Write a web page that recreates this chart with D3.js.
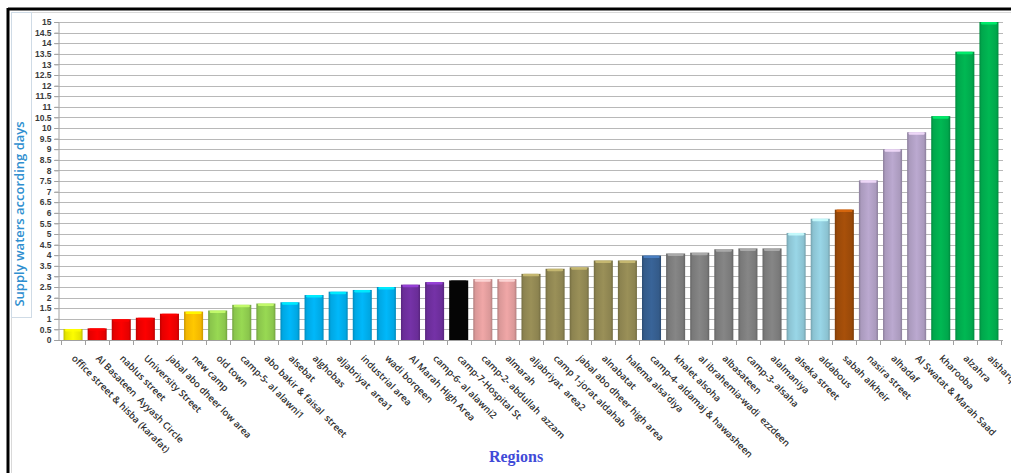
<!DOCTYPE html>
<html>
<head>
<meta charset="utf-8">
<script src="https://cdn.jsdelivr.net/npm/d3@7"></script>
<style>
  html, body { margin: 0; padding: 0; background: #ffffff; }
  svg { display: block; }
</style>
</head>
<body>
<svg id="chart" width="1011" height="473"></svg>
<script>
// Regions, in the order they are plotted
const regions = [
  "office street & hisba (karafat)",
  "Al Basateen  Ayyash Circle",
  "nablus street",
  "University Street",
  "jabal abo dheer low area",
  "new camp",
  "old town",
  "camp-5- al alawni1",
  "abo bakir & faisal  street",
  "alsebat",
  "alghobas",
  "aljabriyat  area1",
  "industrial area",
  "wadi borqeen",
  "Al Marah High Area",
  "camp-6- al alawni2",
  "camp-7-Hospital St",
  "camp-2- abdullah  azzam",
  "almarah",
  "aljabriyat  area2",
  "camp 1-jorat aldahab",
  "jabal abo dheer high area",
  "alnabatat",
  "halema alsa'diya",
  "camp-4- aldamaj & hawasheen",
  "khalet alsoha",
  "al ibrahemia-wadi  ezzdeen",
  "albasateen",
  "camp-3- alsaha",
  "alalmaniya",
  "alseka street",
  "aldabous",
  "sabah alkheir",
  "nasira street",
  "alhadaf",
  "Al Swatat & Marah Saad",
  "kharooba",
  "alzahra",
  "alsharqia"
];

// Water supply interval in days for each region
const supplyDays = [
  0.52, 0.55, 0.98, 1.05, 1.24, 1.34, 1.39, 1.66, 1.72, 1.78,
  2.12, 2.28, 2.36, 2.5, 2.61, 2.73, 2.81, 2.87, 2.87, 3.12,
  3.36, 3.43, 3.75, 3.75, 3.98, 4.08, 4.12, 4.28, 4.32, 4.32,
  5.05, 5.72, 6.15, 7.53, 9.0, 9.8, 10.56, 13.6, 15.0
];

// Y axis tick values (every half day)
const yTicks = d3.range(0, 15.01, 0.5);

// Fill colour of each bar
const barColors = [
  "#F2F200", "#F20000", "#F20000", "#F20000", "#F20000", "#FFC000",
  "#92D050", "#92D050", "#92D050",
  "#00B0F0", "#00B0F0", "#00B0F0", "#00B0F0", "#00B0F0",
  "#7030A0", "#7030A0", "#050505", "#E6A0A0", "#E6A0A0",
  "#948A54", "#948A54", "#948A54", "#948A54", "#948A54",
  "#376092",
  "#808080", "#808080", "#808080", "#808080", "#808080",
  "#93CDDD", "#93CDDD", "#A14D0A",
  "#B3A2C7", "#B3A2C7", "#B3A2C7",
  "#00B050", "#00B050", "#00B050"
];

const svg = d3.select("#chart");

// outer frame: heavy top and left edges
svg.append("line").attr("x1", 8).attr("x2", 1011).attr("y1", 9).attr("y2", 9)
  .attr("stroke", "#000").attr("stroke-width", 3);
svg.append("line").attr("x1", 8).attr("x2", 8).attr("y1", 8).attr("y2", 473)
  .attr("stroke", "#000").attr("stroke-width", 3);
// faint inner frame
svg.append("line").attr("x1", 11).attr("x2", 1011).attr("y1", 12.5).attr("y2", 12.5)
  .attr("stroke", "#d9d9d9").attr("stroke-width", 1);
svg.append("line").attr("x1", 11.5).attr("x2", 11.5).attr("y1", 12).attr("y2", 473)
  .attr("stroke", "#d9d9d9").attr("stroke-width", 1);

const x0 = 61, x1 = 1001, yTop = 22, yBase = 340;

const x = d3.scaleBand()
  .domain(d3.range(regions.length))
  .range([x0, x1])
  .paddingInner(0.21)
  .paddingOuter(0.105);

const y = d3.scaleLinear().domain([0, 15]).range([yBase, yTop]);

// gradients for the shaded bar look
const defs = svg.append("defs");
const uniqueColors = Array.from(new Set(barColors));
const gradId = c => "g" + c.replace("#", "");
uniqueColors.forEach(c => {
  const base = d3.color(c);
  const g = defs.append("linearGradient").attr("id", gradId(c))
    .attr("x1", "0").attr("x2", "1").attr("y1", "0").attr("y2", "0");
  g.append("stop").attr("offset", "0%").attr("stop-color", base.darker(0.7));
  g.append("stop").attr("offset", "12%").attr("stop-color", base.darker(0.15));
  g.append("stop").attr("offset", "50%").attr("stop-color", base.brighter(0.12));
  g.append("stop").attr("offset", "88%").attr("stop-color", base.darker(0.15));
  g.append("stop").attr("offset", "100%").attr("stop-color", base.darker(0.7));
});

// horizontal gridlines
svg.append("g").selectAll("line").data(yTicks).join("line")
  .attr("x1", 54).attr("x2", 1003)
  .attr("y1", d => Math.round(y(d)) + 0.5).attr("y2", d => Math.round(y(d)) + 0.5)
  .attr("stroke", "#b8b8b8").attr("stroke-width", 1);

// y axis
const yAxis = d3.axisLeft(y).tickValues(yTicks).tickSize(4).tickPadding(3)
  .tickFormat(d => String(d));
const gy = svg.append("g").attr("transform", "translate(58.5,0)").call(yAxis);
gy.select(".domain").attr("stroke", "#a0a0a0");
gy.selectAll(".tick line").attr("stroke", "#a0a0a0");
gy.selectAll(".tick text")
  .attr("font-family", "'Liberation Sans', Arial, sans-serif")
  .attr("font-size", "8.5px").attr("font-weight", 700)
  .attr("fill", "#3a3a3a");

// bars
const bars = svg.append("g");
bars.selectAll("rect.bar").data(supplyDays).join("rect")
  .attr("class", "bar")
  .attr("x", (d, i) => x(i))
  .attr("width", x.bandwidth())
  .attr("y", d => y(d))
  .attr("height", d => yBase - y(d))
  .attr("fill", (d, i) => `url(#${gradId(barColors[i])})`);
// light cap on each bar top
bars.selectAll("rect.cap").data(supplyDays).join("rect")
  .attr("class", "cap")
  .attr("x", (d, i) => x(i) + 1.5)
  .attr("width", x.bandwidth() - 3)
  .attr("y", d => y(d))
  .attr("height", 2.5)
  .attr("rx", 1.2)
  .attr("fill", (d, i) => d3.color(barColors[i]).brighter(0.9))
  .attr("opacity", 0.85);

// x axis line with boundary ticks
svg.append("line").attr("x1", 58).attr("x2", 1003)
  .attr("y1", yBase + 0.5).attr("y2", yBase + 0.5).attr("stroke", "#a0a0a0");
svg.append("g").selectAll("line").data(d3.range(regions.length + 1)).join("line")
  .attr("x1", i => Math.round(x0 + i * (x1 - x0) / regions.length) + 0.5)
  .attr("x2", i => Math.round(x0 + i * (x1 - x0) / regions.length) + 0.5)
  .attr("y1", yBase).attr("y2", yBase + 5)
  .attr("stroke", "#a0a0a0");

// slanted region labels
svg.append("g").selectAll("text").data(regions).join("text")
  .attr("transform", (d, i) => `translate(${x(i) + x.bandwidth() / 2 - 2},${359}) rotate(45)`)
  .attr("text-anchor", "start")
  .attr("font-family", "'Open Sans', sans-serif")
  .attr("font-size", "9.5px").attr("font-weight", 600)
  .attr("fill", "#2e2e2e")
  .attr("xml:space", "preserve")
  .style("white-space", "pre")
  .text(d => d);

// y axis title inside its box
svg.append("rect").attr("x", 11.5).attr("y", 12.5).attr("width", 20).attr("height", 305)
  .attr("fill", "none").attr("stroke", "#cfdbe6");
svg.append("text")
  .attr("transform", "translate(24,214) rotate(-90)")
  .attr("text-anchor", "middle")
  .attr("font-family", "'Open Sans', sans-serif")
  .attr("font-size", "13px").attr("font-weight", 600)
  .attr("fill", "#2f8fd0")
  .text("Supply waters according days");

// x axis title
svg.append("text")
  .attr("x", 516).attr("y", 462)
  .attr("text-anchor", "middle")
  .attr("font-family", "'Liberation Serif', 'Times New Roman', serif")
  .attr("font-size", "16px").attr("font-weight", 700)
  .attr("fill", "#3f4ad8")
  .text("Regions");
</script>
</body>
</html>
